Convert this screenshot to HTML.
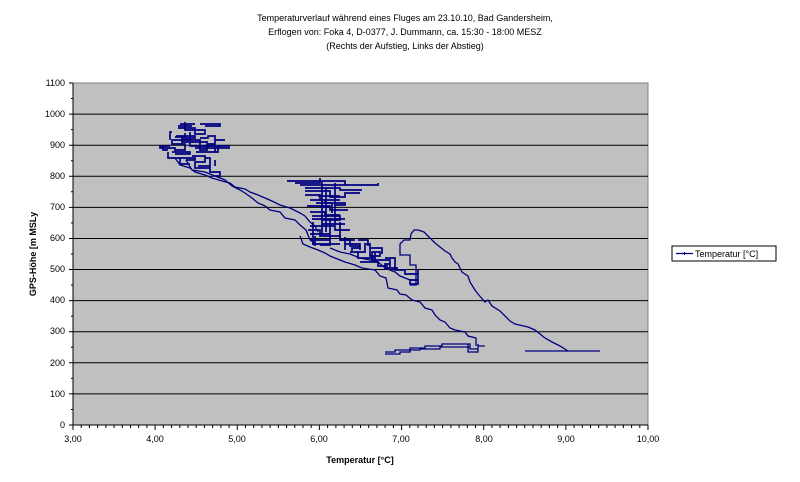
<!DOCTYPE html>
<html><head><meta charset="utf-8"><style>
body{margin:0;background:#fff;width:800px;height:482px;overflow:hidden}
svg{display:block}
text{font-family:"Liberation Sans",Arial,sans-serif;fill:#000}
</style></head><body>
<svg width="800" height="482" viewBox="0 0 800 482">
<text x="405" y="21" font-size="9" text-anchor="middle">Temperaturverlauf während eines Fluges am  23.10.10, Bad Gandersheim,</text>
<text x="405" y="35" font-size="9" text-anchor="middle">Erflogen von: Foka 4, D-0377, J. Dummann, ca. 15:30 - 18:00 MESZ</text>
<text x="405" y="49" font-size="9" text-anchor="middle">(Rechts der Aufstieg, Links der Abstieg)</text>
<rect x="73" y="83" width="575" height="342" fill="#c0c0c0" stroke="#808080" stroke-width="1"/>
<g stroke="#000" stroke-width="1">
<line x1="73" y1="114.1" x2="648" y2="114.1"/><line x1="73" y1="145.2" x2="648" y2="145.2"/>
<line x1="73" y1="176.3" x2="648" y2="176.3"/><line x1="73" y1="207.4" x2="648" y2="207.4"/>
<line x1="73" y1="238.5" x2="648" y2="238.5"/><line x1="73" y1="269.5" x2="648" y2="269.5"/>
<line x1="73" y1="300.6" x2="648" y2="300.6"/><line x1="73" y1="331.7" x2="648" y2="331.7"/>
<line x1="73" y1="362.8" x2="648" y2="362.8"/><line x1="73" y1="393.9" x2="648" y2="393.9"/>
<line x1="73" y1="83" x2="73" y2="425"/><line x1="73" y1="425" x2="648" y2="425"/>
</g>
<g stroke="#000" stroke-width="1">
<path d="M69 83h4M69 114.1h4M69 145.2h4M69 176.3h4M69 207.4h4M69 238.5h4M69 269.5h4M69 300.6h4M69 331.7h4M69 362.8h4M69 393.9h4M69 425h4"/>
<path d="M71 98.5h2M71 129.6h2M71 160.7h2M71 191.8h2M71 222.9h2M71 254h2M71 285.1h2M71 316.2h2M71 347.3h2M71 378.4h2M71 409.5h2"/>
<path d="M73 425v5M155.1 425v5M237.3 425v5M319.4 425v5M401.6 425v5M483.7 425v5M565.9 425v5M648 425v5"/>
<path d="M81.2 425v3M89.4 425v3M97.6 425v3M105.9 425v3M114.1 425v3M122.3 425v3M130.5 425v3M138.7 425v3M146.9 425v3M163.3 425v3M171.6 425v3M179.8 425v3M188 425v3M196.2 425v3M204.4 425v3M212.6 425v3M220.9 425v3M229.1 425v3M245.5 425v3M253.7 425v3M261.9 425v3M270.1 425v3M278.4 425v3M286.6 425v3M294.8 425v3M303 425v3M311.2 425v3M327.6 425v3M335.9 425v3M344.1 425v3M352.3 425v3M360.5 425v3M368.7 425v3M376.9 425v3M385.1 425v3M393.4 425v3M409.8 425v3M418 425v3M426.2 425v3M434.4 425v3M442.6 425v3M450.9 425v3M459.1 425v3M467.3 425v3M475.5 425v3M491.9 425v3M500.1 425v3M508.4 425v3M516.6 425v3M524.8 425v3M533 425v3M541.2 425v3M549.4 425v3M557.6 425v3M574.1 425v3M582.3 425v3M590.5 425v3M598.7 425v3M606.9 425v3M615.1 425v3M623.4 425v3M631.6 425v3M639.8 425v3"/>
</g>
<g font-size="9" text-anchor="end">
<text x="65" y="86">1100</text><text x="65" y="117">1000</text><text x="65" y="148">900</text><text x="65" y="179">800</text><text x="65" y="210">700</text><text x="65" y="241">600</text><text x="65" y="272">500</text><text x="65" y="303">400</text><text x="65" y="334">300</text><text x="65" y="366">200</text><text x="65" y="397">100</text><text x="65" y="428">0</text>
</g>
<g font-size="9" text-anchor="middle">
<text x="73" y="442">3,00</text><text x="155" y="442">4,00</text><text x="237" y="442">5,00</text><text x="319" y="442">6,00</text><text x="401" y="442">7,00</text><text x="484" y="442">8,00</text><text x="566" y="442">9,00</text><text x="648" y="442">10,00</text>
</g>
<text x="360" y="463" font-size="9" font-weight="bold" text-anchor="middle">Temperatur [°C]</text>
<text transform="translate(36 254) rotate(-90)" font-size="9" font-weight="bold" text-anchor="middle">GPS-Höhe [m MSLy</text>
<g fill="none" stroke="#000080" stroke-width="1.3">
<path d="M600 351H525M568 351L560 346L552 342L545 338L540 334L535 330L528 327L515 324L510 321L505 316L500 311L492 306L488 300L485 302L478 294L475 290L470 282L468 276L462 272L458 264L455 262L452 258L450 254L445 251L435 243L430 238L424 232L418 230L414 230L411 234L410 240H404L400 244V255H410V265H416V285H410"/>
<path d="M385 352H395V350H410V348H425V346H442V344H470V349H478V346H485M468 344V352H478V344"/>
<path d="M385 354H400V352H410V350H420V349H440V347H470"/>
<path d="M300 236L303 244L310 247L318 250L325 253L330 256L340 260L345 262L355 265L362 268L375 270L380 276L386 278L388 288L397 290L400 294L406 295L412 300L420 302L425 308L432 310L435 315L440 320L445 322L450 328L455 330L465 332L468 336L476 338V346"/>
<path d="M330 248L340 252L350 254L360 258L370 260L378 262L385 268L395 272L400 276L410 280H416"/>
<path d="M175 158L180 165L190 168L195 172L205 175L212 178L222 181L230 183L235 187L245 189L250 192L258 195L265 198L272 201L280 205L290 208L300 213L305 216L310 222L315 226L318 232"/>
<path d="M186 160L192 170L205 172L215 176L225 180L232 186L240 190L245 193L252 198L258 203L265 206L270 210L280 212L285 218L295 220L300 225L306 230L310 240L315 243"/>
</g>
<g fill="none" stroke="#000080" stroke-width="1.7">
<path d="M180 124H195M178 126H192M185 122V130H205V134H195V128H178M190 132V140H172V144H185V150H175V148H168M168 152V158H180V164H190M170 146H160V148H172M176 136H195V138H182V142H208M190 142V146H212M200 140V150H207V144H215M195 148H230M196 152H218V146H230M192 156H205V162H195V168H210M178 158H195V160H186M172 132H170V140M200 124H220V126H205M188 128H195V130M172 152H190V154H175M210 164V172H220V176H215M168 150H163V146M205 158H210V166H198M215 166V160"/>
<path d="M200 138H208V136H215V152M215 140H225M175 137H185V133M182 140H200V144M205 146H222"/>
<path d="M287 181H345V185H378V183M295 183H320V178M300 185H355M305 188H340V190H362M305 191H330V197H345V193H360M305 195H320V200H340M310 200H325V203H345V205H335M307 206H330V210H348M310 212H325V215H340M312 216H340V220H322V224H345M310 226H335V230H350M308 230H320V236H340V240H355M310 240H330V245H320M312 244H340M313 222V245M322 182V235M335 183V225M320 207H330"/>
<path d="M312 219H345M310 234H330M315 236V246M330 218V240M340 222V238M345 237V250M318 196H340M316 203H332V213M326 188V232"/>
<path d="M340 240H350V246H360V248H352V252H365V244H370V256H380V252H372V260H390V264H385V268H398M350 252H358V258H375M345 244H360V250M360 262H378V266H388M375 252V262M385 258H395V270H405V274H418V280H410V284H418V270M358 240H368V246M370 248H382V254M390 262V268"/>
</g>
<rect x="672" y="246" width="104" height="15" fill="#fff" stroke="#000" stroke-width="1"/>
<line x1="676" y1="253.5" x2="693" y2="253.5" stroke="#000080" stroke-width="1.2"/>
<line x1="684.5" y1="252" x2="684.5" y2="255" stroke="#000080" stroke-width="1"/>
<text x="695" y="257" font-size="9">Temperatur [°C]</text>
</svg>
</body></html>
